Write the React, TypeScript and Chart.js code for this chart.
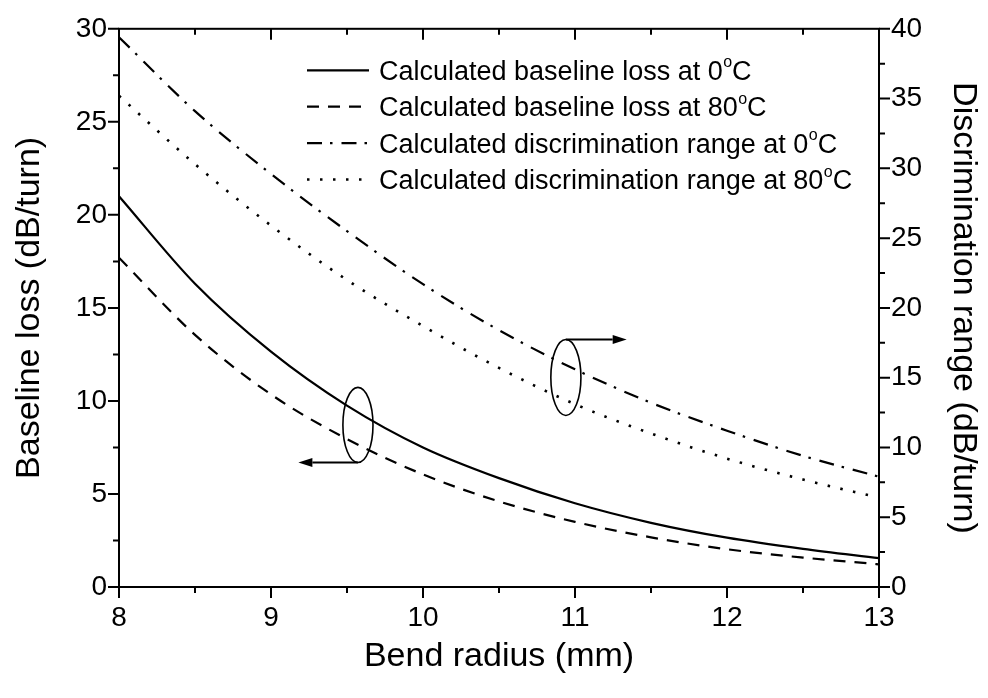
import React, { useEffect, useRef } from "react";
import { Chart, registerables } from "chart.js";

Chart.register(...registerables);

// ---- data ----
const radius = [8, 8.5, 9, 9.5, 10, 10.5, 11, 11.5, 12, 12.5, 13];
const baseline0 = [21.0, 16.3, 12.65, 9.75, 7.5, 5.85, 4.5, 3.45, 2.65, 2.05, 1.55];
const baseline80 = [17.7, 13.55, 10.35, 7.95, 6.05, 4.6, 3.5, 2.67, 2.03, 1.58, 1.22];
const discrim0 = [39.4, 34.1, 29.6, 25.5, 21.7, 18.4, 15.6, 13.2, 11.2, 9.4, 7.9];
const discrim80 = [35.2, 30.3, 25.9, 22.0, 18.7, 15.7, 13.1, 11.0, 9.2, 7.7, 6.4];

const seriesNames = [
  "Calculated baseline loss at 0",
  "Calculated baseline loss at 80",
  "Calculated discrimination range at 0",
  "Calculated discrimination range at 80",
];
const degreeSup = "o";
const degreeUnit = "C";

const xTitle = "Bend radius (mm)";
const yLeftTitle = "Baseline loss (dB/turn)";
const yRightTitle = "Discrimination range (dB/turn)";

// annotation ellipses (left-axis data units) with arrow target x
const ellipseCx = [9.572, 10.94];
const ellipseCy = [8.71, 11.26];
const ellipseRx = [0.099, 0.099];
const ellipseRy = [2.02, 2.04];
const arrowToX = [9.18, 11.34];
const arrowFromBottom = [true, false];

const FONT = "'Liberation Sans', Arial, Helvetica, sans-serif";

const pairs = (ys: number[]) => radius.map((x, i) => ({ x, y: ys[i] }));

const decorPlugin = {
  id: "decor",
  afterDraw(chart: any) {
    const ctx = chart.ctx as CanvasRenderingContext2D;
    const { left, right, top, bottom } = chart.chartArea;
    const xs = chart.scales.x;
    const yl = chart.scales.y;
    const yr = chart.scales.y1;
    ctx.save();
    ctx.strokeStyle = "#000";
    ctx.fillStyle = "#000";
    ctx.lineWidth = 2;
    ctx.setLineDash([]);
    ctx.strokeRect(left, top, right - left, bottom - top);

    const MAJ = 11;
    const MIN = 6;
    const majors = (s: any) => s.ticks.map((t: any) => t.value as number);
    const minors = (vals: number[]) => vals.slice(1).map((v, i) => (v + vals[i]) / 2);

    ctx.beginPath();
    const xm = majors(xs);
    const tickX = (v: number, len: number) => {
      const p = xs.getPixelForValue(v);
      ctx.moveTo(p, bottom);
      ctx.lineTo(p, bottom + len);
      ctx.moveTo(p, top);
      ctx.lineTo(p, top + len);
    };
    xm.forEach((v: number) => tickX(v, MAJ));
    minors(xm).forEach((v) => tickX(v, MIN));

    const ylm = majors(yl);
    const tickL = (v: number, len: number) => {
      const p = yl.getPixelForValue(v);
      ctx.moveTo(left, p);
      ctx.lineTo(left - len, p);
    };
    ylm.forEach((v: number) => tickL(v, MAJ));
    minors(ylm).forEach((v) => tickL(v, MIN));

    const yrm = majors(yr);
    const tickR = (v: number, len: number) => {
      const p = yr.getPixelForValue(v);
      ctx.moveTo(right, p);
      ctx.lineTo(right + len, p);
    };
    yrm.forEach((v: number) => tickR(v, MAJ));
    minors(yrm).forEach((v) => tickR(v, MIN));
    ctx.stroke();

    // legend
    const rowTop = top + 41.5;
    const rowGap = 36.4;
    const fs = 27;
    chart.data.datasets.forEach((ds: any, i: number) => {
      const cy = rowTop + i * rowGap;
      ctx.lineWidth = ds.borderWidth || 2;
      ctx.setLineDash(ds.borderDash || []);
      ctx.beginPath();
      ctx.moveTo(left + 188, cy);
      ctx.lineTo(left + 250, cy);
      ctx.stroke();
      ctx.setLineDash([]);
      const base = cy + fs * 0.358;
      let tx = left + 260;
      ctx.textAlign = "left";
      ctx.textBaseline = "alphabetic";
      ctx.font = `${fs}px ${FONT}`;
      ctx.fillText(seriesNames[i], tx, base);
      tx += ctx.measureText(seriesNames[i]).width;
      ctx.font = `16px ${FONT}`;
      ctx.fillText(degreeSup, tx + 0.5, cy - 3);
      tx += ctx.measureText(degreeSup).width + 0.5;
      ctx.font = `${fs}px ${FONT}`;
      ctx.fillText(degreeUnit, tx, base);
    });

    // ellipses + arrows
    ctx.lineWidth = 1.6;
    ellipseCx.forEach((cxv, i) => {
      const cx = xs.getPixelForValue(cxv);
      const cy = yl.getPixelForValue(ellipseCy[i]);
      const rx = Math.abs(xs.getPixelForValue(cxv + ellipseRx[i]) - cx);
      const ry = Math.abs(yl.getPixelForValue(ellipseCy[i] + ellipseRy[i]) - cy);
      ctx.beginPath();
      ctx.ellipse(cx, cy, rx, ry, 0, 0, Math.PI * 2);
      ctx.stroke();
      const ay = arrowFromBottom[i] ? cy + ry : cy - ry;
      const tip = xs.getPixelForValue(arrowToX[i]);
      const dir = Math.sign(tip - cx);
      const head = 14;
      ctx.lineWidth = 2;
      ctx.beginPath();
      ctx.moveTo(cx, ay);
      ctx.lineTo(tip - dir * head, ay);
      ctx.stroke();
      ctx.beginPath();
      ctx.moveTo(tip, ay);
      ctx.lineTo(tip - dir * head, ay - 4.5);
      ctx.lineTo(tip - dir * head, ay + 4.5);
      ctx.closePath();
      ctx.fill();
      ctx.lineWidth = 1.6;
    });
    ctx.restore();
  },
};

export default function App() {
  const ref = useRef<HTMLCanvasElement | null>(null);
  useEffect(() => {
    if (!ref.current) return;
    const tickFont = { family: FONT, size: 28 };
    const titleFont = { family: FONT, size: 34, lineHeight: 1 };
    const chart = new Chart(ref.current, {
      type: "line",
      data: {
        datasets: [
          { label: seriesNames[0], data: pairs(baseline0), yAxisID: "y", borderDash: [], borderWidth: 2.2 },
          { label: seriesNames[1], data: pairs(baseline80), yAxisID: "y", borderDash: [12, 9], borderWidth: 2.2 },
          { label: seriesNames[2], data: pairs(discrim0), yAxisID: "y1", borderDash: [15, 8, 2.5, 9], borderWidth: 2.2 },
          { label: seriesNames[3], data: pairs(discrim80), yAxisID: "y1", borderDash: [2.5, 10.5], borderWidth: 2.6 },
        ].map((d) => ({
          ...d,
          borderColor: "#000",
          backgroundColor: "#000",
          pointRadius: 0,
          fill: false,
          cubicInterpolationMode: "monotone" as const,
        })),
      },
      options: {
        responsive: false,
        animation: false,
        devicePixelRatio: 1,
        layout: { padding: { top: 28, left: 0, right: 0, bottom: 0 } },
        plugins: { legend: { display: false }, tooltip: { enabled: false } },
        scales: {
          x: {
            type: "linear",
            min: 8,
            max: 13,
            grid: { display: false, drawTicks: false },
            border: { display: false },
            ticks: { stepSize: 1, color: "#000", font: tickFont, padding: 14 },
            title: { display: true, text: xTitle, color: "#000", font: titleFont, padding: { bottom: 24, top: 0 } },
            afterFit: (s: any) => { s.height = 111; },
          },
          y: {
            position: "left",
            min: 0,
            max: 30,
            grid: { display: false, drawTicks: false },
            border: { display: false },
            ticks: { stepSize: 5, color: "#000", font: tickFont, padding: 12 },
            title: { display: true, text: yLeftTitle, color: "#000", font: titleFont, padding: { top: 13, bottom: 0 } },
            afterFit: (s: any) => { s.width = 119; },
          },
          y1: {
            position: "right",
            min: 0,
            max: 40,
            grid: { display: false, drawTicks: false },
            border: { display: false },
            ticks: { stepSize: 5, color: "#000", font: tickFont, padding: 12 },
            title: { display: true, text: yRightTitle, color: "#000", font: titleFont, padding: { top: 8, bottom: 0 } },
            afterFit: (s: any) => { s.width = 109; },
          },
        },
      },
      plugins: [decorPlugin],
    } as any);
    return () => chart.destroy();
  }, []);
  return (
    <div style={{ position: "absolute", left: 0, top: 0, width: 988, height: 698, background: "#fff" }}>
      <canvas ref={ref} width={988} height={698} style={{ display: "block" }} />
    </div>
  );
}
